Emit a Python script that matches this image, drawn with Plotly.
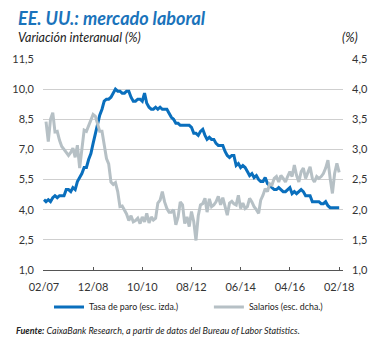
import pandas as pd
import plotly.graph_objects as go

# Tasa de paro EE. UU. (%), mensual feb-2007 .. feb-2018 (escala izquierda)
paro_inicio = "2007-02-01"
tasa_paro = [
    4.5, 4.4, 4.5, 4.4, 4.6, 4.7, 4.6, 4.7, 4.7, 4.7, 5.0,
    5.0, 4.9, 5.1, 5.0, 5.4, 5.6, 5.8, 6.1, 6.1, 6.5, 6.8, 7.3,
    7.8, 8.3, 8.7, 9.0, 9.4, 9.5, 9.5, 9.6, 9.8, 10.0, 9.9, 9.9,
    9.8, 9.8, 9.9, 9.9, 9.6, 9.4, 9.4, 9.5, 9.5, 9.4, 9.8, 9.3,
    9.1, 9.0, 9.0, 9.1, 9.0, 9.1, 9.0, 9.0, 9.0, 8.8, 8.6, 8.5,
    8.3, 8.3, 8.2, 8.2, 8.2, 8.2, 8.2, 8.1, 7.8, 7.8, 7.7, 7.9,
    8.0, 7.7, 7.5, 7.6, 7.5, 7.5, 7.3, 7.2, 7.2, 7.2, 6.9, 6.7,
    6.6, 6.7, 6.7, 6.2, 6.3, 6.1, 6.2, 6.1, 5.9, 5.7, 5.8, 5.6,
    5.7, 5.5, 5.4, 5.4, 5.6, 5.3, 5.2, 5.1, 5.0, 5.0, 5.1, 5.0,
    4.9, 4.9, 5.0, 5.1, 4.8, 4.9, 4.8, 4.9, 5.0, 4.9, 4.7, 4.7,
    4.7, 4.4, 4.4, 4.4, 4.4, 4.3, 4.3, 4.4, 4.2, 4.1, 4.1, 4.1,
    4.1, 4.1,
]

# Salarios: variación interanual (%), mensual mar-2007 .. feb-2018 (escala derecha)
salarios_inicio = "2007-03-01"
salarios = [
    3.46, 3.13, 3.50, 3.61, 3.29, 3.30, 3.15, 3.05, 3.00, 2.95,
    2.90, 2.95, 3.02, 2.87, 3.07, 2.69, 3.00, 3.32, 3.30, 3.40,
    3.50, 3.58, 3.55, 3.40, 3.30, 3.30, 3.10, 2.85, 2.76, 2.46,
    2.42, 2.45, 2.30, 2.05, 2.06, 2.00, 1.93, 1.82, 1.90, 1.80,
    1.82, 1.86, 1.77, 1.88, 1.80, 1.94, 1.78, 1.88, 1.83, 1.86,
    2.11, 2.16, 2.30, 2.13, 2.02, 1.96, 1.96, 2.00, 1.75, 1.88,
    2.13, 2.08, 1.77, 1.88, 1.72, 1.97, 1.80, 1.49, 1.90, 2.08,
    2.10, 2.19, 1.96, 2.18, 2.05, 2.08, 2.13, 2.22, 2.08, 2.20,
    2.05, 1.91, 2.11, 2.14, 2.10, 2.08, 2.24, 2.02, 2.11, 2.02,
    2.05, 2.19, 2.13, 2.05, 2.00, 1.94, 2.16, 2.24, 2.35, 2.30,
    2.43, 2.41, 2.52, 2.55, 2.46, 2.57, 2.52, 2.46, 2.55, 2.63,
    2.55, 2.74, 2.57, 2.46, 2.63, 2.69, 2.52, 2.60, 2.71, 2.52,
    2.46, 2.55, 2.52, 2.55, 2.60, 2.69, 2.82, 2.52, 2.27, 2.60,
    2.77, 2.62,
]

izq_ticks = [1.0, 2.5, 4.0, 5.5, 7.0, 8.5, 10.0, 11.5]
der_ticks = [1.0, 1.5, 2.0, 2.5, 3.0, 3.5, 4.0, 4.5]

fechas_paro = pd.date_range(paro_inicio, periods=len(tasa_paro), freq="MS")
fechas_sal = pd.date_range(salarios_inicio, periods=len(salarios), freq="MS")

AZUL = "#0a6fbd"
GRIS = "#b6c0c5"
TEXTO = "#333333"
FUENTE = "Lato, sans-serif"

fig = go.Figure()
# salarios primero para que la tasa de paro quede por encima
fig.add_trace(go.Scatter(
    x=fechas_sal, y=salarios, name="Salarios (esc. dcha.)",
    mode="lines", line=dict(color=GRIS, width=3), yaxis="y2", legend="legend2",
))
fig.add_trace(go.Scatter(
    x=fechas_paro, y=tasa_paro, name="Tasa de paro (esc. izda.)",
    mode="lines", line=dict(color=AZUL, width=3), yaxis="y", legend="legend",
))

leyenda = dict(
    orientation="h", y=-0.175, xanchor="left", yanchor="middle",
    font=dict(size=8.8, color="#222222"), bgcolor="rgba(0,0,0,0)",
)

fig.update_layout(
    width=380, height=338,
    margin=dict(l=38, r=31, t=59, b=68),
    paper_bgcolor="white", plot_bgcolor="white",
    separators=",.",
    font=dict(family=FUENTE, size=11, color=TEXTO),
    showlegend=True,
    legend=dict(leyenda, x=0.02),
    legend2=dict(leyenda, x=0.553),
    xaxis=dict(
        type="date", range=["2007-01-19", "2018-03-25"],
        tick0="2007-02-01", dtick="M22", tickformat="%m/%y",
        ticks="inside", ticklen=3, tickcolor="#555555",
        showline=True, linecolor="#555555", linewidth=1,
        showgrid=False, zeroline=False, ticklabelstandoff=7,
        tickfont=dict(size=11, color=TEXTO),
    ),
    yaxis=dict(
        range=[1.0, 11.5], tickvals=izq_ticks, tickformat=".1f",
        showgrid=True, gridcolor="#cfcfcf", gridwidth=1, zeroline=False,
        ticks="", ticklabelstandoff=8, tickfont=dict(size=11, color=TEXTO),
    ),
    yaxis2=dict(
        range=[1.0, 4.5], tickvals=der_ticks, tickformat=".1f",
        overlaying="y", side="right", showgrid=False, zeroline=False,
        ticks="", ticklabelstandoff=8, tickfont=dict(size=11, color=TEXTO),
    ),
)

fig.add_annotation(
    text="<b><i>EE. UU.: mercado laboral</i></b>", xref="paper", yref="paper",
    x=-0.09, y=1.194, xanchor="left", yanchor="middle", showarrow=False,
    font=dict(family="Lato, sans-serif", size=18, color="#1a73bb"),
)
fig.add_annotation(
    text="<i>Variación interanual (%)</i>", xref="paper", yref="paper",
    x=-0.09, y=1.104, xanchor="left", yanchor="middle", showarrow=False,
    font=dict(family="Lato, sans-serif", size=12.5, color="#222222"),
)
fig.add_annotation(
    text="<i>(%)</i>", xref="paper", yref="paper",
    x=1.058, y=1.104, xanchor="right", yanchor="middle", showarrow=False,
    font=dict(family="Lato, sans-serif", size=12.5, color="#222222"),
)
fig.add_annotation(
    text="<b><i>Fuente:</i></b><i> CaixaBank Research, a partir de datos del Bureau of Labor Statistics.</i>",
    xref="paper", yref="paper", x=-0.0965, y=-0.285, xanchor="left", yanchor="middle",
    showarrow=False, font=dict(size=9, color="#222222"),
)

fig.write_html("out.html")
